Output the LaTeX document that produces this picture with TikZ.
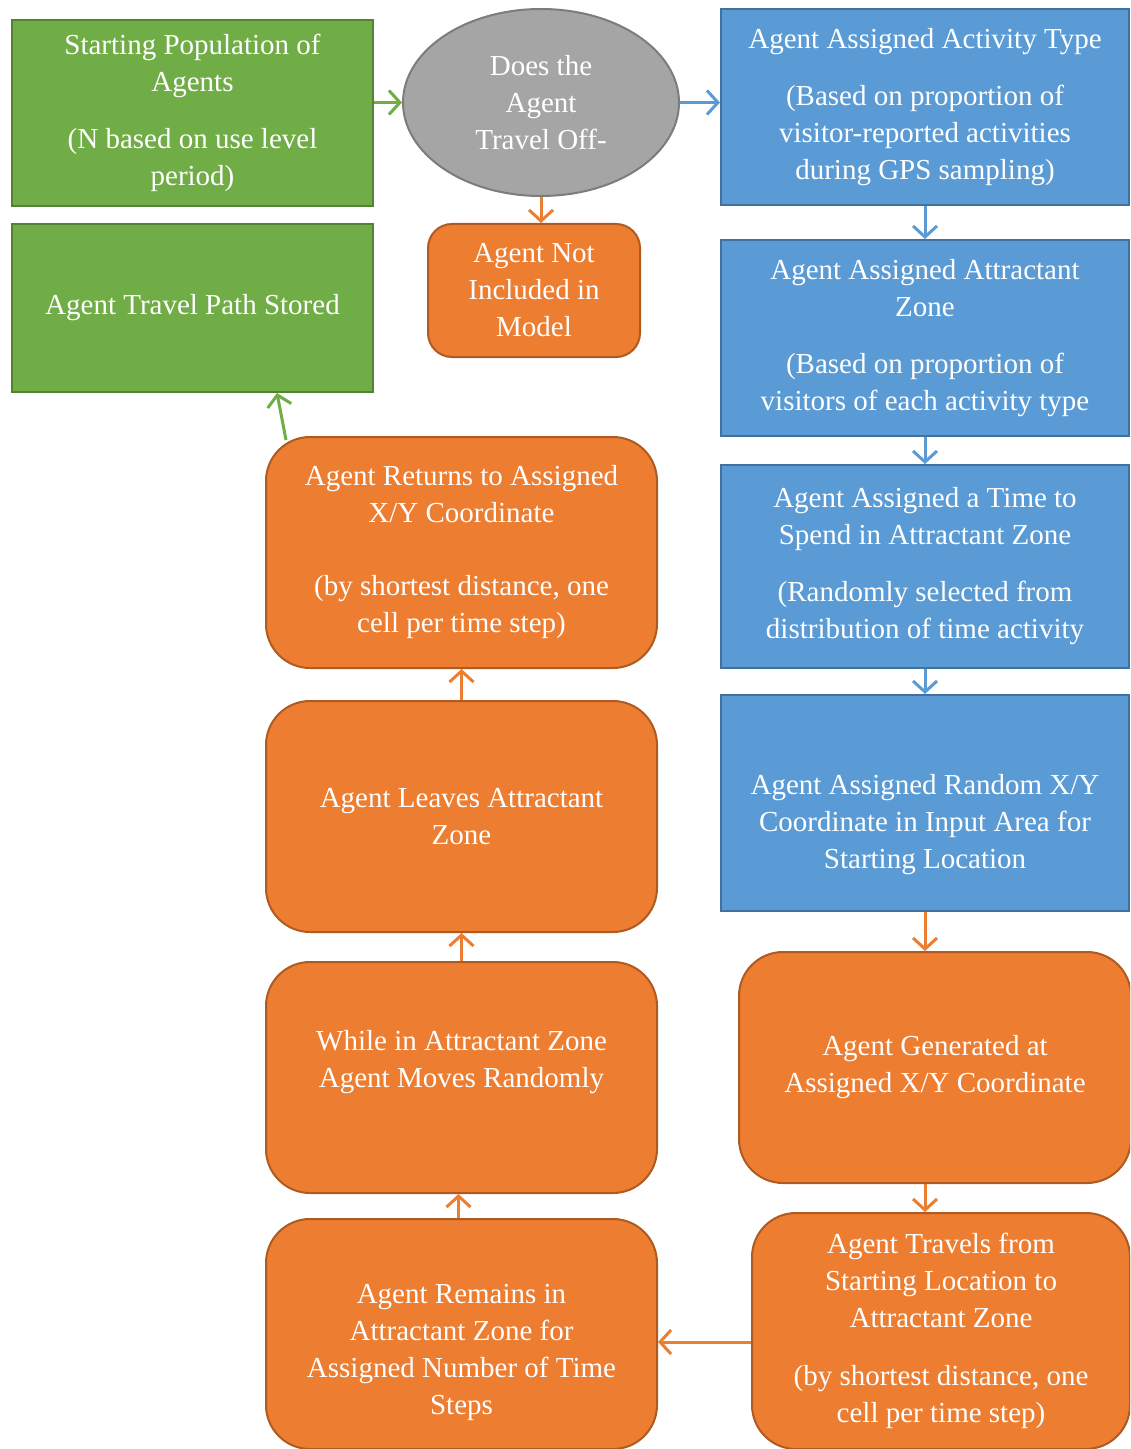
\documentclass[tikz,border=0pt]{standalone}
\usepackage{fontspec}
\setmainfont{Liberation Serif}
\usetikzlibrary{arrows.meta,positioning,shapes.geometric}
\definecolor{boxgreen}{RGB}{112,173,71}
\definecolor{linegreen}{RGB}{84,130,53}
\definecolor{boxblue}{RGB}{91,155,213}
\definecolor{lineblue}{RGB}{65,113,156}
\definecolor{boxorange}{RGB}{237,125,49}
\definecolor{lineorange}{RGB}{174,90,33}
\definecolor{boxgray}{RGB}{165,165,165}
\definecolor{linegray}{RGB}{124,124,124}

\begin{document}
\begin{tikzpicture}[>={Straight Barb[length=5.5pt,width=12pt]}, x=0.5pt, y=-0.5pt]
\tikzstyle{every node}=[text=white,align=center,inner sep=0pt,font=\fontsize{14.5}{18.5}\selectfont]
\tikzstyle{greenbox}=[draw=linegreen,fill=boxgreen,line width=1pt,minimum width=180.5pt]
\tikzstyle{bluebox}=[draw=lineblue,fill=boxblue,line width=1pt,minimum width=204pt]
\tikzstyle{orangebox}=[draw=lineorange,fill=boxorange,line width=1pt,rounded corners=22pt]
\tikzstyle{decision}=[ellipse,draw=linegray,fill=boxgray,line width=1pt,minimum width=138pt,minimum height=93.5pt]
\tikzstyle{flow}=[->,line width=1.5pt]
\clip (0,0) rectangle (1130,1449);

% top row
\node[greenbox,minimum height=93pt]  (Start)    at (192.5,113) {Starting Population of\\Agents\\[10pt](N based on use level\\period)};
\node[decision]                      (Offtrail) at (541,102.5) {Does the\\Agent\\Travel Off-};
\node[bluebox,minimum height=98pt]   (Activity) at (925,107)   {Agent Assigned Activity Type\\[10pt](Based on proportion of\\visitor-reported activities\\during GPS sampling)};
\node[orangebox,rounded corners=12pt,minimum width=106pt,minimum height=66.5pt] (NotIncl) at (534,290.5) {Agent Not\\Included in\\Model};
\node[greenbox,minimum height=84pt]  (Stored)   at (192.5,308) {Agent Travel Path Stored};

% right column
\node[bluebox,minimum height=98pt]    (Zone)      [below=16.5pt of Activity] {Agent Assigned Attractant\\Zone\\[10pt](Based on proportion of\\visitors of each activity type};
\node[bluebox,minimum height=101.5pt] (TimeSpend) [below=13.5pt of Zone]     {Agent Assigned a Time to\\Spend in Attractant Zone\\[10pt](Randomly selected from\\distribution of time activity};
\node[bluebox,minimum height=108pt]   (RandXY)    [below=12.5pt of TimeSpend] {\strut\\Agent Assigned Random X/Y\\Coordinate in Input Area for\\Starting Location};
\node[orangebox,minimum width=196pt,minimum height=115.5pt] (Generated) at (935,1067.5) {Agent Generated at\\Assigned X/Y Coordinate};
\node[orangebox,minimum width=189pt,minimum height=118pt]   (Travels)   at (941,1331)   {Agent Travels from\\Starting Location to\\Attractant Zone\\[10.5pt](by shortest distance, one\\cell per time step)};

% left column
\node[orangebox,minimum width=195.5pt,minimum height=115.5pt] (Returns) at (461.5,552.5) {Agent Returns to Assigned\\X/Y Coordinate\\[18pt](by shortest distance, one\\cell per time step)};
\node[orangebox,minimum width=195.5pt,minimum height=115.5pt] (Leaves)  [below=15.5pt of Returns] {Agent Leaves Attractant\\Zone};
\node[orangebox,minimum width=195.5pt,minimum height=115.5pt] (While)   [below=14pt of Leaves]    {While in Attractant Zone\\Agent Moves Randomly\\\mbox{}};
\node[orangebox,minimum width=195.5pt,minimum height=115pt]   (Remains) [below=12pt of While]     {\strut\\[-3pt]Agent Remains in\\Attractant Zone for\\Assigned Number of Time\\Steps};

% connectors
\draw[flow,boxgreen] (Start.east |- Offtrail.west) -- (Offtrail.west);
\draw[flow,boxblue] (Offtrail.east) -- (Offtrail.east -| Activity.west);
\draw[flow,boxorange] (Offtrail.south) -- (Offtrail.south |- NotIncl.north);
\draw[flow,boxblue] (Activity) -- (Zone);
\draw[flow,boxblue] (Zone) -- (TimeSpend);
\draw[flow,boxblue] (TimeSpend) -- (RandXY);
\draw[flow,boxorange] (RandXY.south) -- (RandXY.south |- Generated.north);
\draw[flow,boxorange] (RandXY.south |- Generated.south) -- (RandXY.south |- Travels.north);
\draw[flow,boxorange] ([yshift=-5.5pt]Travels.west) -- ([yshift=-5.5pt]Travels.west -| Remains.east);
\draw[flow,boxorange] ([xshift=-1.5pt]Remains.north) -- ([xshift=-1.5pt]While.south);
\draw[flow,boxorange] (While) -- (Leaves);
\draw[flow,boxorange] (Leaves) -- (Returns);
\draw[flow,boxgreen] ([xshift=10.5pt,yshift=-2pt]Returns.north west) -- ([xshift=133pt]Stored.south west);
\end{tikzpicture}
\end{document}
